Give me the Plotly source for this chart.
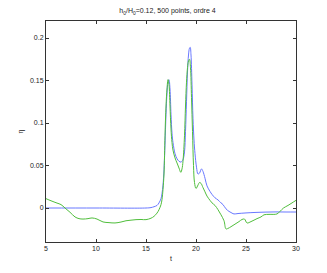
import plotly.graph_objects as go

t_blue = [5, 10, 15, 15.5, 15.8, 16.1, 16.3, 16.5, 16.6, 16.7, 16.8, 16.9, 17.0, 17.1, 17.2, 17.3,
          17.4, 17.5, 17.6, 17.7, 17.9, 18.1, 18.3, 18.5, 18.7, 18.85, 18.95, 19.05, 19.15, 19.25,
          19.35, 19.42, 19.5, 19.6, 19.7, 19.8, 19.9, 20.05, 20.2, 20.35, 20.55, 20.7, 20.9, 21.1,
          21.4, 21.6, 21.9, 22.2, 22.5, 22.7, 23.0, 23.3, 23.6, 23.8, 24.2, 25, 26, 27, 28, 29, 30]
eta_blue = [0, 0, 0, 0.0005, 0.0015, 0.003, 0.006, 0.011, 0.017, 0.027, 0.045, 0.075, 0.11, 0.135,
            0.148, 0.151, 0.14, 0.11, 0.088, 0.077, 0.064, 0.058, 0.055, 0.054, 0.057, 0.066, 0.09,
            0.125, 0.16, 0.18, 0.188, 0.189, 0.18, 0.145, 0.105, 0.08, 0.064, 0.048, 0.040, 0.041,
            0.046, 0.043, 0.035, 0.026, 0.0195, 0.016, 0.012, 0.0095, 0.006, 0.004, -0.001, -0.004,
            -0.006, -0.007, -0.0065, -0.0058, -0.0052, -0.0048, -0.0046, -0.0047, -0.0047]

t_green = [5, 5.5, 6.1, 6.5, 6.9, 7.4, 7.9, 8.3, 8.7, 9.2, 9.6, 10.1, 10.7, 11.3, 11.9, 12.5, 13.0,
           13.5, 14.0, 14.5, 15.0, 15.5, 15.8, 16.1, 16.3, 16.5, 16.6, 16.7, 16.8, 16.9, 17.0, 17.1,
           17.2, 17.3, 17.4, 17.5, 17.6, 17.7, 17.9, 18.1, 18.3, 18.48, 18.6, 18.7, 18.85, 18.95,
           19.05, 19.15, 19.25, 19.35, 19.45, 19.55, 19.65, 19.75, 19.85, 20.0, 20.2, 20.35, 20.5,
           20.7, 20.9, 21.1, 21.4, 21.6, 21.9, 22.2, 22.5, 22.8, 23.0, 23.2, 23.5, 23.9, 24.3, 24.6,
           24.85, 25.1, 25.5, 26.1, 26.5, 26.8, 27.3, 28.1, 28.4, 28.75, 29.2, 29.6, 30]
eta_green = [0.011, 0.0085, 0.0058, 0.004, 0.0, -0.005, -0.0105, -0.0125, -0.013, -0.0125, -0.0117,
             -0.013, -0.0164, -0.0172, -0.0176, -0.0165, -0.015, -0.0143, -0.0137, -0.0135, -0.0137,
             -0.012, -0.0098, -0.006, -0.002, 0.004, 0.010, 0.022, 0.04, 0.085, 0.12, 0.14, 0.151,
             0.145, 0.12, 0.093, 0.077, 0.068, 0.059, 0.053, 0.047, 0.042, 0.046, 0.055, 0.085, 0.12,
             0.148, 0.165, 0.173, 0.175, 0.165, 0.13, 0.09, 0.05, 0.03, 0.023, 0.027, 0.03, 0.029,
             0.024, 0.019, 0.014, 0.009, 0.006, 0.003, -0.002, -0.008, -0.015, -0.0246, -0.024,
             -0.022, -0.019, -0.016, -0.0135, -0.013, -0.0176, -0.016, -0.0125, -0.0105, -0.008,
             -0.0075, -0.007, -0.004, 0.0, 0.003, 0.006, 0.009]

x_ticks = [5, 10, 15, 20, 25, 30]
y_ticks = [0, 0.05, 0.1, 0.15, 0.2]
y_tick_labels = ["0", "0.05", "0.1", "0.15", "0.2"]

FONT = "Liberation Sans, Arial"

fig = go.Figure()
fig.add_trace(go.Scatter(x=t_blue, y=eta_blue, mode="lines",
                         line=dict(color="rgb(105,120,255)", width=1), line_shape="spline"))
fig.add_trace(go.Scatter(x=t_green, y=eta_green, mode="lines",
                         line=dict(color="rgb(80,190,60)", width=1), line_shape="spline"))

axis_common = dict(showgrid=False, zeroline=False, showline=True, linecolor="#333333",
                   linewidth=1, mirror="ticks", ticks="inside", ticklen=3, tickcolor="#333333",
                   tickfont=dict(family=FONT, size=7, color="#222222"))
fig.update_xaxes(range=[5, 30], tickvals=x_ticks,
                 title=dict(text="t", standoff=4, font=dict(family=FONT, size=7, color="#222222")),
                 **axis_common)
fig.update_yaxes(range=[-0.04, 0.22], tickvals=y_ticks, ticktext=y_tick_labels,
                 title=dict(text="η", standoff=5, font=dict(family=FONT, size=7, color="#222222")),
                 **axis_common)
fig.update_layout(
    width=319, height=265, showlegend=False,
    margin=dict(l=34, r=31, t=12, b=31),
    paper_bgcolor="white", plot_bgcolor="white",
    title=dict(text="h<sub>0</sub>/H<sub>0</sub>=0.12, 500 points, ordre 4", x=0.5, xanchor="center",
               y=0.99, yanchor="middle",
               font=dict(family=FONT, size=7, color="#222222")),
)
fig.write_html("out.html")
